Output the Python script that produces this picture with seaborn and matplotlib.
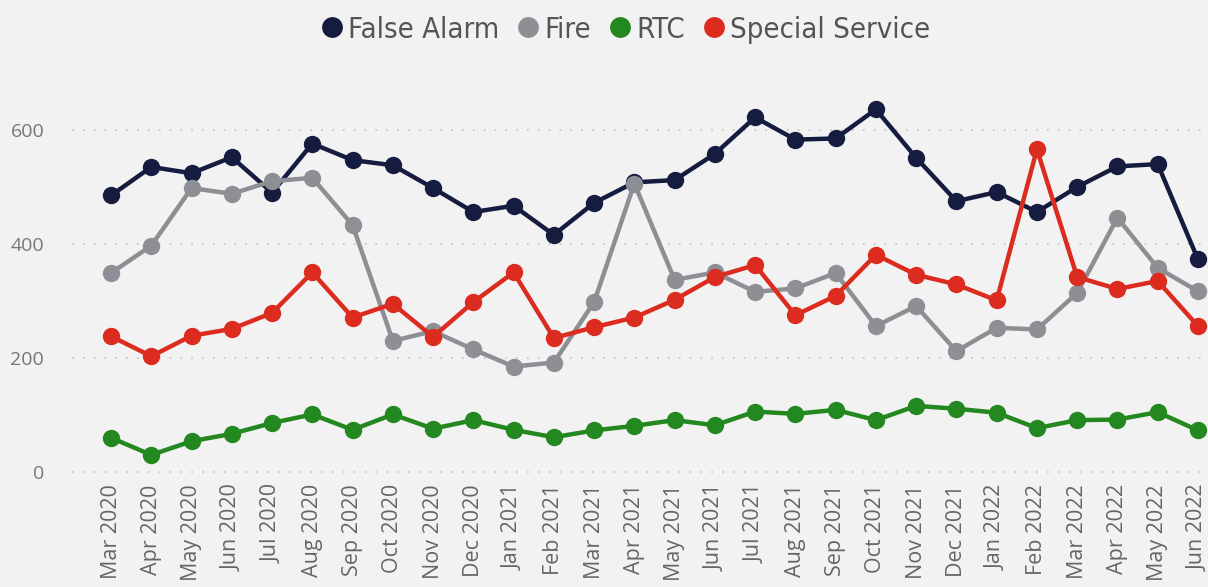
import pandas as pd
import numpy as np
import matplotlib.pyplot as plt
import seaborn as sns
from matplotlib.lines import Line2D

months = ["Mar 2020", "Apr 2020", "May 2020", "Jun 2020", "Jul 2020", "Aug 2020", "Sep 2020",
          "Oct 2020", "Nov 2020", "Dec 2020", "Jan 2021", "Feb 2021", "Mar 2021", "Apr 2021",
          "May 2021", "Jun 2021", "Jul 2021", "Aug 2021", "Sep 2021", "Oct 2021", "Nov 2021",
          "Dec 2021", "Jan 2022", "Feb 2022", "Mar 2022", "Apr 2022", "May 2022", "Jun 2022"]

false_alarm = [485, 535, 524, 552, 490, 576, 547, 538, 498, 456, 467, 416, 472, 508,
               512, 558, 622, 583, 585, 636, 551, 475, 491, 456, 500, 536, 540, 373]
fire = [349, 397, 498, 488, 510, 516, 433, 230, 247, 215, 185, 192, 298, 506,
        337, 350, 316, 322, 349, 256, 291, 212, 253, 250, 314, 446, 358, 317]
rtc = [60, 30, 54, 67, 86, 101, 74, 101, 76, 91, 74, 61, 73, 81,
       91, 82, 106, 102, 109, 91, 116, 111, 104, 77, 91, 92, 105, 73]
special_service = [238, 203, 239, 251, 279, 350, 271, 295, 237, 298, 350, 235, 254, 271,
                   302, 342, 363, 275, 309, 381, 346, 329, 301, 566, 342, 321, 335, 256]

series = ["False Alarm", "Fire", "RTC", "Special Service"]
colors = ["#161C40", "#8E8F95", "#22881F", "#DC2B1F"]

# long format for seaborn
df = pd.DataFrame({
    "month": months * 4,
    "idx": list(range(len(months))) * 4,
    "type": sum([[s] * len(months) for s in series], []),
    "count": false_alarm + fire + rtc + special_service,
})

bg = "#F2F2F2"
sns.set_style("white")
plt.rcParams["font.family"] = ["Open Sans", "DejaVu Sans"]

fig = plt.figure(figsize=(12.08, 5.87), dpi=100, facecolor=bg)
ax = fig.add_axes([72 / 1208, 1 - 480 / 587, 1 - 72 / 1208, 390 / 587])
ax.set_facecolor(bg)

sns.lineplot(data=df, x="idx", y="count", hue="type", hue_order=series,
             palette=colors, marker="o", markersize=12.5, markeredgewidth=0,
             linewidth=3.2, legend=False, ax=ax, clip_on=False)

ax.set_xlim(-0.97, 27.25)
ax.set_ylim(-14, 670)
ax.set_yticks([0, 200, 400, 600])
ax.set_xticks(range(len(months)))
ax.set_xticklabels(months, rotation=90, ha="center", va="top")
ax.tick_params(axis="x", colors="#666666", labelsize=15.5, length=0, pad=3)
ax.tick_params(axis="y", colors="#777777", labelsize=14, length=0, pad=20)
ax.grid(axis="y", linestyle=(0, (1, 5)), color="#C8C8C8", linewidth=1.3)
ax.set_axisbelow(True)
for sp in ax.spines.values():
    sp.set_visible(False)
ax.set_xlabel("")
ax.set_ylabel("")

handles = [Line2D([], [], linestyle="none", marker="o", markersize=15,
                  markerfacecolor=c, markeredgewidth=0) for c in colors]
fig.legend(handles, series, loc="upper center", bbox_to_anchor=(0.514, 1.018), ncol=4,
           frameon=False, handletextpad=-0.15, columnspacing=0.3, handlelength=1.4,
           labelcolor="#555555",
           prop={"family": "DejaVu Sans", "stretch": "condensed", "size": 21})

fig.savefig("out.png", dpi=100, facecolor=bg)
